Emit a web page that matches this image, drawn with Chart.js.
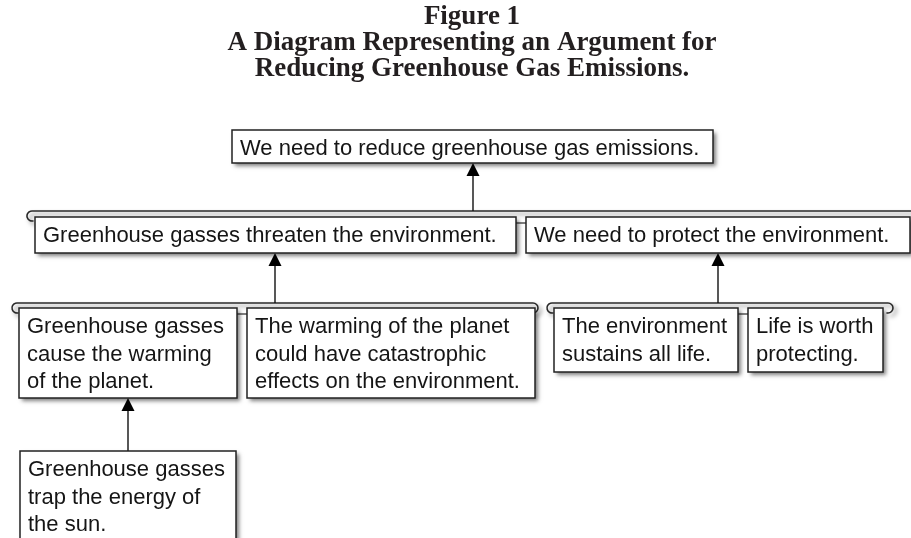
<!DOCTYPE html>
<html>
<head>
<meta charset="utf-8">
<script src="https://cdn.jsdelivr.net/npm/chart.js@4"></script>
<style>
  html, body { margin: 0; background: #fff; }
  #wrap { width: 911px; height: 538px; }
</style>
</head>
<body>
<div id="wrap"><canvas id="diagram"></canvas></div>
<script>
const titleLines = ["Figure 1", "A Diagram Representing an Argument for", "Reducing Greenhouse Gas Emissions."];

const claims = [
    ["We need to reduce greenhouse gas emissions."],
    ["Greenhouse gasses threaten the environment."],
    ["We need to protect the environment."],
    ["Greenhouse gasses", "cause the warming", "of the planet."],
    ["The warming of the planet", "could have catastrophic", "effects on the environment."],
    ["The environment", "sustains all life."],
    ["Life is worth", "protecting."],
    ["Greenhouse gasses", "trap the energy of", "the sun."]
];

// claims that together make one reason, and the claim they support
const groups = [[1, 2], [3, 4], [5, 6], [7]];
const groupSupports = [0, 1, 2, 3];

// layout, in diagram units (x, y from top-left)
const boxLayout = [
    [232, 130, 481, 33],
    [35, 217, 481, 36],
    [526, 217, 384, 36],
    [19, 308, 218, 90],
    [247, 308, 288, 90],
    [554, 308, 184, 64],
    [748, 308, 135, 64],
    [20, 451, 216, 110]
];
const bracketLayout = [[27, 925, 211], [12, 538, 303], [547, 893, 303], null];
const arrowX = [473, 275, 718, 128];
const titleBaselines = [24, 50, 76];

const diagramPlugin = {
    id: 'argumentDiagram',
    afterDraw(chart) {
        const ctx = chart.ctx;
        const sx = v => chart.scales.x.getPixelForValue(v);
        const sy = v => chart.scales.y.getPixelForValue(v);

        ctx.save();

        // title
        ctx.fillStyle = '#231f20';
        ctx.font = 'bold 27px "Liberation Serif", "Times New Roman", serif';
        ctx.textAlign = 'center';
        ctx.textBaseline = 'alphabetic';
        titleLines.forEach((t, i) => ctx.fillText(t, sx(472), sy(titleBaselines[i])));

        const shadowOn = () => {
            ctx.shadowColor = 'rgba(0,0,0,0.5)';
            ctx.shadowBlur = 4;
            ctx.shadowOffsetX = 3;
            ctx.shadowOffsetY = 3;
        };
        const shadowOff = () => {
            ctx.shadowColor = 'transparent';
            ctx.shadowBlur = 0;
            ctx.shadowOffsetX = 0;
            ctx.shadowOffsetY = 0;
        };

        ctx.strokeStyle = '#2a2a2a';
        ctx.lineWidth = 1.6;

        // brackets over each group
        bracketLayout.forEach(b => {
            if (!b) return;
            const [x0, x1, y] = b;
            const r = 5;
            shadowOn();
            ctx.beginPath();
            ctx.arc(sx(x0 + r), sy(y + r), r, Math.PI * 0.4, -Math.PI / 2, false);
            ctx.lineTo(sx(x1 - r), sy(y));
            ctx.arc(sx(x1 - r), sy(y + r), r, -Math.PI / 2, Math.PI * 0.6, false);
            ctx.stroke();
        });
        shadowOff();

        // short links between claims of the same group
        ctx.lineWidth = 1.2;
        groups.forEach(g => {
            for (let i = 0; i < g.length - 1; i++) {
                const a = boxLayout[g[i]], b = boxLayout[g[i + 1]];
                const y = a[1] + 6;
                ctx.beginPath();
                ctx.moveTo(sx(a[0] + a[2]), sy(y));
                ctx.lineTo(sx(b[0]), sy(y));
                ctx.stroke();
            }
        });

        // arrows from each group to the claim it supports
        groups.forEach((g, gi) => {
            const target = boxLayout[groupSupports[gi]];
            const tipY = target[1] + target[3];
            const fromY = bracketLayout[gi] ? bracketLayout[gi][2] : boxLayout[g[0]][1];
            const x = sx(arrowX[gi]);
            ctx.strokeStyle = '#111';
            ctx.lineWidth = 1.4;
            ctx.beginPath();
            ctx.moveTo(x, sy(fromY));
            ctx.lineTo(x, sy(tipY + 10));
            ctx.stroke();
            ctx.fillStyle = '#000';
            ctx.beginPath();
            ctx.moveTo(x, sy(tipY));
            ctx.lineTo(x - 6.5, sy(tipY + 13));
            ctx.lineTo(x + 6.5, sy(tipY + 13));
            ctx.closePath();
            ctx.fill();
        });

        // claim boxes
        boxLayout.forEach((b, i) => {
            const [x, y, w, h] = b;
            const px = sx(x), py = sy(y), pw = sx(x + w) - px, ph = sy(y + h) - py;
            shadowOn();
            ctx.fillStyle = '#fff';
            ctx.fillRect(px, py, pw, ph);
            shadowOff();
            ctx.strokeStyle = '#222';
            ctx.lineWidth = 1.5;
            ctx.strokeRect(px, py, pw, ph);

            ctx.fillStyle = '#151515';
            ctx.font = '22px "Liberation Sans", Arial, Helvetica, sans-serif';
            ctx.textAlign = 'left';
            ctx.textBaseline = 'middle';
            claims[i].forEach((line, li) => {
                ctx.fillText(line, sx(x + 8), sy(y + 19 + li * 27.5));
            });
        });

        ctx.restore();
    }
};

new Chart(document.getElementById('diagram'), {
    type: 'scatter',
    data: { datasets: [] },
    options: {
        responsive: true,
        maintainAspectRatio: false,
        animation: false,
        events: [],
        layout: { padding: 0 },
        plugins: { legend: { display: false }, tooltip: { enabled: false }, title: { display: false } },
        scales: {
            x: { type: 'linear', min: 0, max: 911, display: false },
            y: { type: 'linear', min: 0, max: 538, reverse: true, display: false }
        }
    },
    plugins: [diagramPlugin]
});
</script>
</body>
</html>
